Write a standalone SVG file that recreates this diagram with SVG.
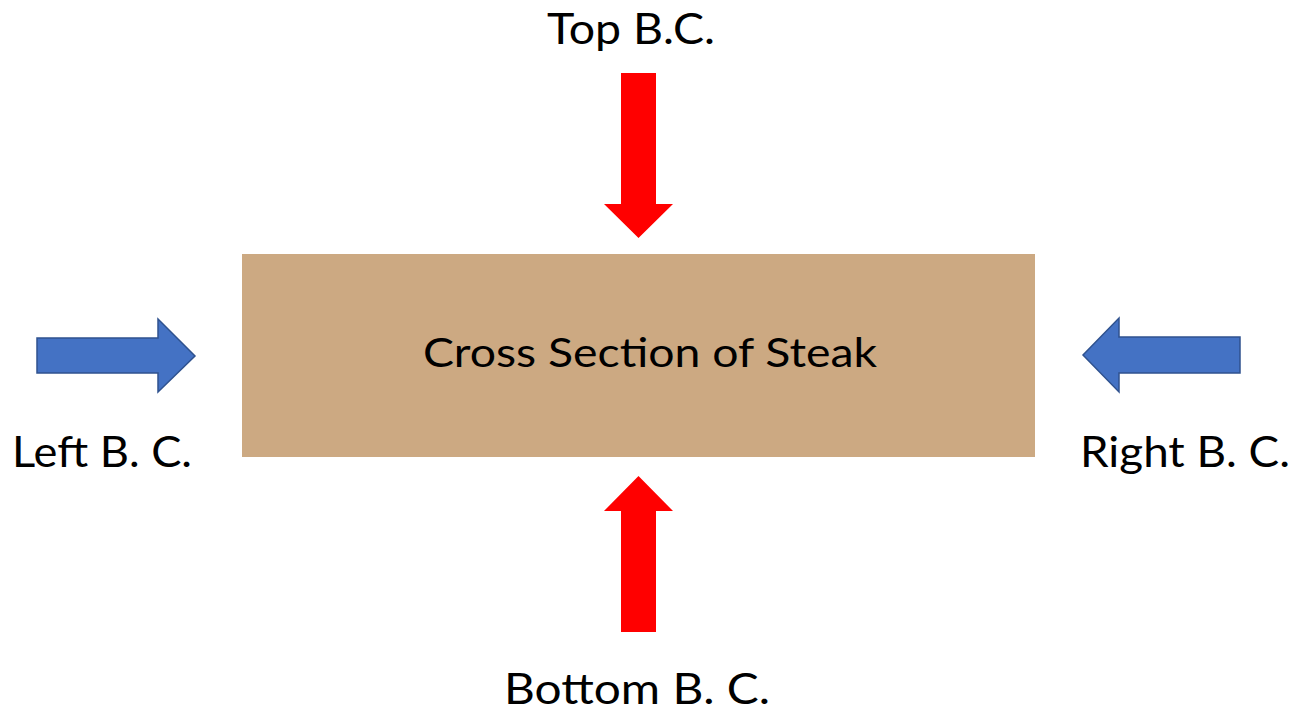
<svg xmlns="http://www.w3.org/2000/svg" width="1307" height="721" viewBox="0 0 1307 721">
  <style>
    .label { font-family: Lato, "Liberation Sans", sans-serif; font-size: 42px; fill: #000; }
    .title { font-family: Lato, "Liberation Sans", sans-serif; font-size: 40px; fill: #000; }
    .heat { fill: #FF0000; }
    .side { fill: #4472C4; stroke: #2F528F; stroke-width: 1.5; }
  </style>
  <rect width="1307" height="721" fill="#FFFFFF"/>

  <!-- steak cross section -->
  <g id="steak">
    <rect x="242" y="254" width="793" height="203" fill="#CCA982"/>
    <text class="title" x="650" y="367" text-anchor="middle" textLength="454" lengthAdjust="spacingAndGlyphs">Cross Section of Steak</text>
  </g>

  <!-- boundary condition arrows -->
  <g id="connectors">
    <polygon id="arrow-top" class="heat" points="621,73 656,73 656,204 673,204 638.5,238 604,204 621,204"/>
    <polygon id="arrow-bottom" class="heat" points="638.5,476 673,511 656,511 656,632 621,632 621,511 604,511"/>
    <polygon id="arrow-left" class="side" points="37,338 158,338 158,319 195,356 158,392 158,373 37,373"/>
    <polygon id="arrow-right" class="side" points="1240,337 1119,337 1119,318 1083,355 1119,392 1119,373 1240,373"/>
  </g>

  <g id="top-bc">
    <text class="label" x="631" y="44" text-anchor="middle" textLength="168" lengthAdjust="spacingAndGlyphs">Top B.C.</text>
  </g>
  <g id="bottom-bc">
    <text class="label" x="637" y="704" text-anchor="middle" textLength="266" lengthAdjust="spacingAndGlyphs">Bottom B. C.</text>
  </g>
  <g id="left-bc">
    <text class="label" x="102" y="467" text-anchor="middle" textLength="180" lengthAdjust="spacingAndGlyphs">Left B. C.</text>
  </g>
  <g id="right-bc">
    <text class="label" x="1185" y="467" text-anchor="middle" textLength="210" lengthAdjust="spacingAndGlyphs">Right B. C.</text>
  </g>
</svg>
